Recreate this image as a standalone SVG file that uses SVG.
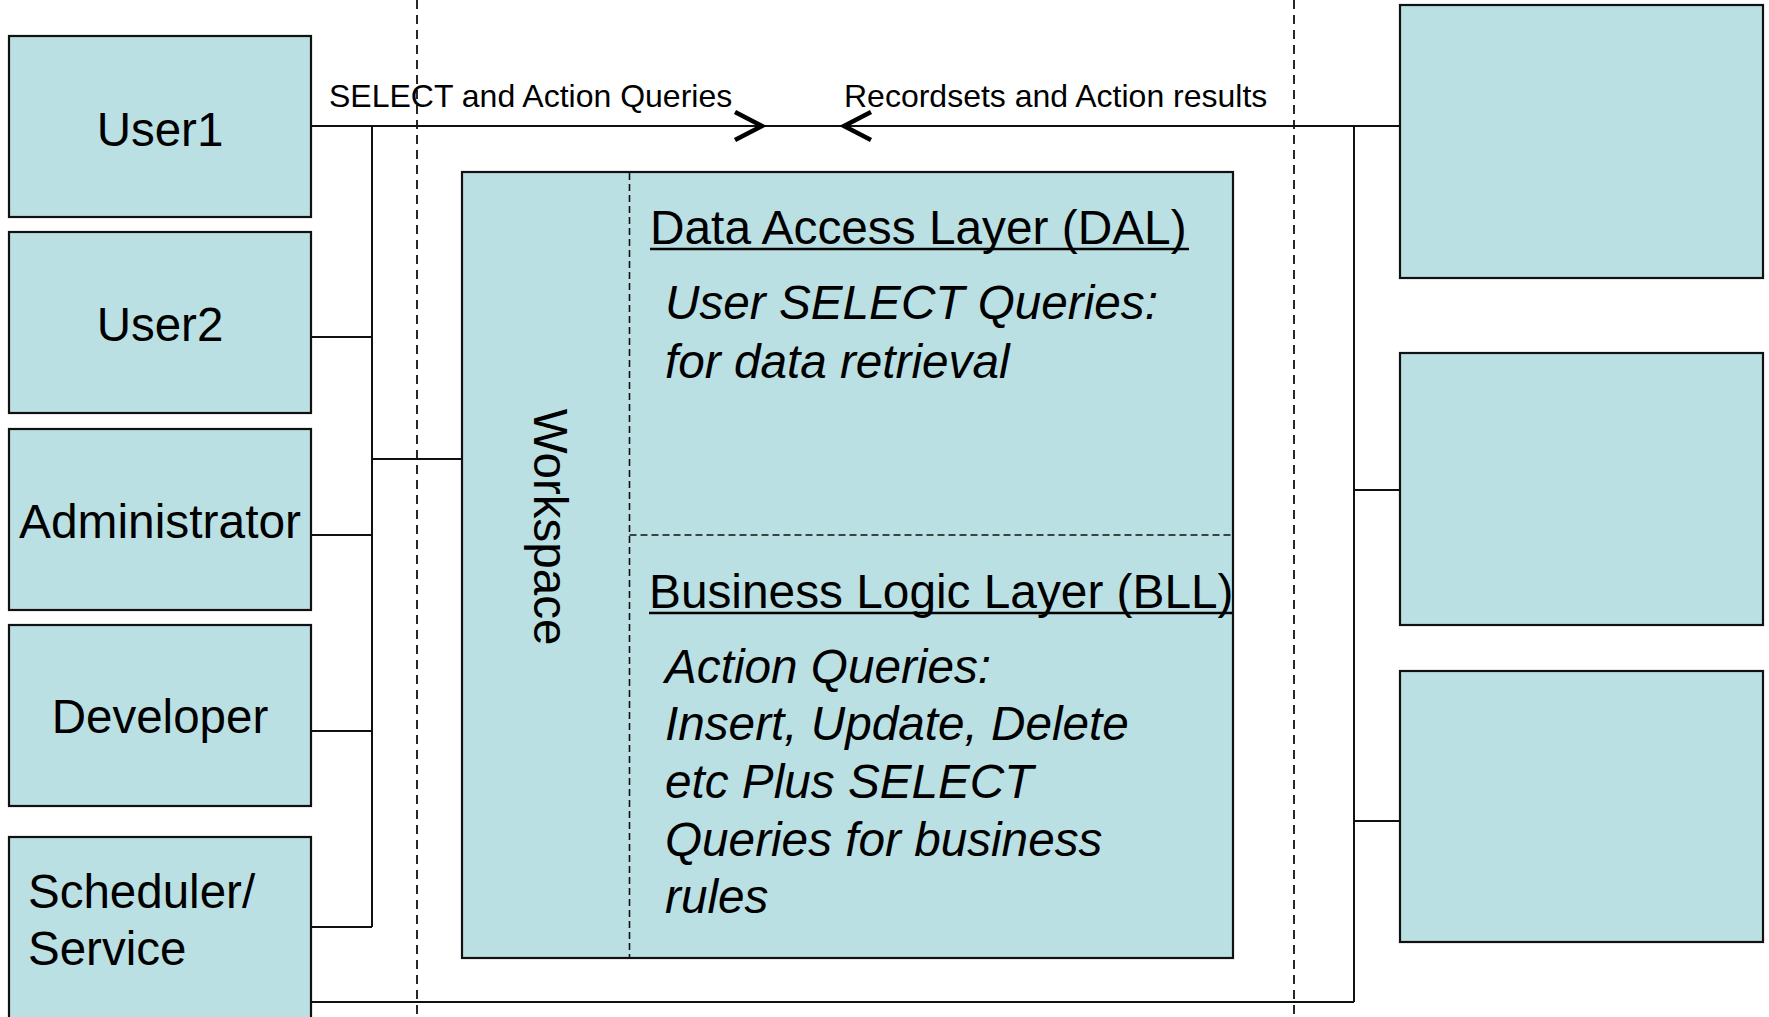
<svg xmlns="http://www.w3.org/2000/svg" width="1769" height="1017" viewBox="0 0 1769 1017">
<style>
.box{fill:#BBE0E3;stroke:#111;stroke-width:2.2}
.ln{fill:none;stroke:#111;stroke-width:2}
.ul{fill:none;stroke:#000;stroke-width:2.6}
.dash{fill:none;stroke:#111;stroke-width:1.8;stroke-dasharray:9 6}
.idash{fill:none;stroke:#111;stroke-width:1.6;stroke-dasharray:7 4}
.chev{fill:none;stroke:#000;stroke-width:4.5;stroke-linecap:butt;stroke-linejoin:miter}
.t{font-family:"Liberation Sans",Arial,sans-serif;fill:#000}
.big{font-size:47.5px}
.ttl{font-size:47.8px}
.lbl{font-size:32px}
.it{font-style:italic;font-size:47.7px}
</style>
<rect width="1769" height="1017" fill="#fff"/>
<g id="boundaries">
<line class="dash" x1="417" y1="0" x2="417" y2="1017"/>
<line class="dash" x1="1294" y1="0" x2="1294" y2="1017"/>
</g>
<g id="connectors">
<line class="ln" x1="311" y1="126" x2="1400" y2="126"/>
<line class="ln" x1="372" y1="126" x2="372" y2="927"/>
<line class="ln" x1="311" y1="337" x2="372" y2="337"/>
<line class="ln" x1="311" y1="535" x2="372" y2="535"/>
<line class="ln" x1="311" y1="731" x2="372" y2="731"/>
<line class="ln" x1="311" y1="927" x2="372" y2="927"/>
<line class="ln" x1="372" y1="459" x2="462" y2="459"/>
<line class="ln" x1="1354" y1="126" x2="1354" y2="1002"/>
<line class="ln" x1="311" y1="1002" x2="1354" y2="1002"/>
<line class="ln" x1="1354" y1="490" x2="1400" y2="490"/>
<line class="ln" x1="1354" y1="821" x2="1400" y2="821"/>
<polyline class="chev" points="735,112 762,126 735,140"/>
<polyline class="chev" points="871,112 844,126 871,140"/>
<text class="t lbl" x="329" y="107">SELECT and Action Queries</text>
<text class="t lbl" x="844" y="107">Recordsets and Action results</text>
</g>
<g id="user1"><rect class="box" x="9" y="36" width="302" height="181"/><text class="t big" x="160" y="146" text-anchor="middle">User1</text></g>
<g id="user2"><rect class="box" x="9" y="232" width="302" height="181"/><text class="t big" x="160" y="341" text-anchor="middle">User2</text></g>
<g id="administrator"><rect class="box" x="9" y="429" width="302" height="181"/><text class="t big" x="160" y="538" text-anchor="middle" textLength="282" lengthAdjust="spacingAndGlyphs">Administrator</text></g>
<g id="developer"><rect class="box" x="9" y="625" width="302" height="181"/><text class="t big" x="160" y="733" text-anchor="middle">Developer</text></g>
<g id="scheduler"><rect class="box" x="9" y="837" width="302" height="200"/><text class="t big" x="28" y="908">Scheduler/</text><text class="t big" x="28" y="965">Service</text></g>
<g id="workspace">
<rect class="box" x="462" y="172" width="771" height="786"/>
<line class="idash" x1="629.5" y1="173" x2="629.5" y2="957"/>
<line class="idash" x1="629.5" y1="535" x2="1232" y2="535"/>
<text class="t big" transform="translate(534,527) rotate(90)" text-anchor="middle">Workspace</text>
<text class="t ttl" x="650" y="244">Data Access Layer (DAL)</text>
<line class="ul" x1="650" y1="249" x2="1189" y2="249"/>
<text class="t it" x="665" y="319">User SELECT Queries:</text>
<text class="t it" x="665" y="378">for data retrieval</text>
<text class="t ttl" x="649" y="608">Business Logic Layer (BLL)</text>
<line class="ul" x1="649" y1="613" x2="1232" y2="613"/>
<text class="t it" x="665" y="683">Action Queries:</text>
<text class="t it" x="665" y="740">Insert, Update, Delete</text>
<text class="t it" x="665" y="798">etc Plus SELECT</text>
<text class="t it" x="665" y="856">Queries for business</text>
<text class="t it" x="665" y="913">rules</text>
</g>
<g id="right1"><rect class="box" x="1400" y="5" width="363" height="273"/></g>
<g id="right2"><rect class="box" x="1400" y="353" width="363" height="272"/></g>
<g id="right3"><rect class="box" x="1400" y="671" width="363" height="271"/></g>
</svg>
